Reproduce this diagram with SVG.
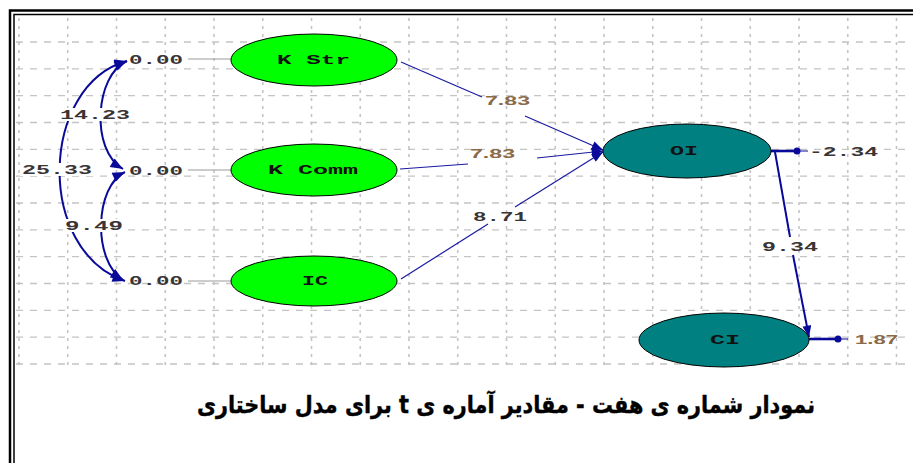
<svg xmlns="http://www.w3.org/2000/svg" width="913" height="463" viewBox="0 0 913 463">
<defs>
<style>
.grid-h{stroke:#c4c4c4;stroke-width:1.3;stroke-dasharray:7 7;fill:none}
.grid-v{stroke:#c4c4c4;stroke-width:1.6;stroke-dasharray:3 5;fill:none}
.frame{fill:none;stroke:#000}
.lat-g{fill:#00ff00;stroke:#000;stroke-width:1}
.lat-t{fill:#008080;stroke:#000;stroke-width:1}
.nlab{font-family:"Liberation Mono",monospace;font-weight:bold;font-size:12px;fill:#111}
.mono{font-family:"Liberation Mono",monospace;font-weight:bold;font-size:13px;fill:#3a3434}
.sans{font-family:"Liberation Sans",Arial,sans-serif;font-weight:bold;font-size:13px;fill:#8a6a48}
.path{stroke:#1a1aa0;stroke-width:1.2;fill:none}
.cov{stroke:#0a0a9a;stroke-width:2;fill:none}
.err{stroke:#0a0a9a;stroke-width:2.6;fill:none}
.thin{stroke:#0a0a9a;stroke-width:1;fill:none}
.tick{stroke:#9a9a9a;stroke-width:1;fill:none}
.bg{fill:#fff}
</style>
<marker id="arr" viewBox="0 0 10 8" refX="10" refY="4" markerWidth="15" markerHeight="9" markerUnits="userSpaceOnUse" orient="auto">
<path d="M0,0 L10,4 L0,8 z" fill="#0a0a9a"/>
</marker>
<marker id="carr" viewBox="0 0 10 8" refX="10" refY="4" markerWidth="15" markerHeight="10" markerUnits="userSpaceOnUse" orient="auto-start-reverse">
<path d="M0,0 L10,4 L0,8 z" fill="#0a0a9a"/>
</marker>
</defs>
<rect width="913" height="463" fill="#fff"/>
<g id="grid">
<path class="grid-h" d="M16,42H905M16,68.8H905M16,95.7H905M16,122.5H905M16,149.3H905M16,176.2H905M16,203H905M16,229.8H905M16,256.7H905M16,283.5H905M16,310.3H905M16,337.2H905M16,364H905"/>
<path class="grid-v" d="M19,18V367M67.75,18V367M116.5,18V367M165.25,18V367M214,18V367M262.75,18V367M311.5,18V367M360.25,18V367M409,18V367M457.75,18V367M506.5,18V367M555.25,18V367M604,18V367M652.75,18V367M701.5,18V367M750.25,18V367M799,18V367M847.75,18V367M896.5,18V367"/>
</g>
<g id="frame">
<path class="frame" stroke-width="2.5" d="M10,463V10.5H913"/>
<path class="frame" stroke-width="1.5" d="M14,463V14.5H913"/>
</g>
<g id="connectors">
<path class="tick" d="M188,59H231M188,170H231M188,281H231"/>
<path class="path" d="M401,62L482,97"/>
<path class="path" d="M525,116L603,150" marker-end="url(#arr)"/>
<path class="path" d="M400,169L468,164"/>
<path class="path" d="M537,158L603,151" marker-end="url(#arr)"/>
<path class="path" d="M401,279L488,224"/>
<path class="path" d="M515,207L603,152" marker-end="url(#arr)"/>
<path class="cov" d="M775,152L790,237"/>
<path class="cov" d="M793,255L809,337" marker-end="url(#arr)"/>
<path class="cov" d="M127,61C40,85 35,250 125,281" marker-start="url(#carr)" marker-end="url(#carr)"/>
<path class="cov" d="M127,61C95,75 90,150 123,169" marker-start="url(#carr)" marker-end="url(#carr)"/>
<path class="cov" d="M125,172C95,186 92,260 123,280" marker-start="url(#carr)" marker-end="url(#carr)"/>
<path class="err" d="M771,151H798"/>
<circle cx="797" cy="151" r="3.5" fill="#0a0a9a"/>
<path class="thin" d="M800,151H808"/>
<path class="err" d="M809,339H840"/>
<circle cx="838" cy="339" r="3.5" fill="#0a0a9a"/>
<path class="thin" d="M840,339H848"/>
</g>
<g id="labels">
<rect class="bg" x="58" y="108" width="74" height="13"/>
<text class="mono" x="60" y="119" textLength="70" lengthAdjust="spacingAndGlyphs">14.23</text>
<rect class="bg" x="20" y="163" width="74" height="13"/>
<text class="mono" x="22" y="174" textLength="70" lengthAdjust="spacingAndGlyphs">25.33</text>
<rect class="bg" x="63" y="219" width="62" height="13"/>
<text class="mono" x="65" y="230" textLength="58" lengthAdjust="spacingAndGlyphs">9.49</text>
<text class="mono" x="129" y="64" textLength="54" lengthAdjust="spacingAndGlyphs">0.00</text>
<text class="mono" x="129" y="175" textLength="54" lengthAdjust="spacingAndGlyphs">0.00</text>
<text class="mono" x="129" y="285" textLength="54" lengthAdjust="spacingAndGlyphs">0.00</text>
<text class="sans" x="485" y="105" textLength="45" lengthAdjust="spacingAndGlyphs">7.83</text>
<text class="sans" x="470" y="158" textLength="45" lengthAdjust="spacingAndGlyphs">7.83</text>
<text class="mono" x="473" y="221" textLength="54" lengthAdjust="spacingAndGlyphs">8.71</text>
<text class="mono" x="762" y="251" textLength="56" lengthAdjust="spacingAndGlyphs">9.34</text>
<text class="mono" x="809" y="156" textLength="69" lengthAdjust="spacingAndGlyphs">-2.34</text>
<text class="sans" x="855" y="344" textLength="43" lengthAdjust="spacingAndGlyphs">1.87</text>
</g>
<g id="node-kstr">
<ellipse class="lat-g" cx="314" cy="60" rx="83" ry="26"/>
<text class="nlab" x="277" y="64" textLength="73" lengthAdjust="spacingAndGlyphs">K Str</text>
</g>
<g id="node-kcomm">
<ellipse class="lat-g" cx="314" cy="170" rx="83" ry="26"/>
<text class="nlab" x="268" y="174" textLength="90" lengthAdjust="spacingAndGlyphs">K Comm</text>
</g>
<g id="node-ic">
<ellipse class="lat-g" cx="314" cy="281" rx="83" ry="25"/>
<text class="nlab" x="302" y="285" textLength="26" lengthAdjust="spacingAndGlyphs">IC</text>
</g>
<g id="node-oi">
<ellipse class="lat-t" cx="687" cy="151" rx="84" ry="27"/>
<text class="nlab" x="670" y="155" textLength="28" lengthAdjust="spacingAndGlyphs">OI</text>
</g>
<g id="node-ci">
<ellipse class="lat-t" cx="724" cy="340" rx="85" ry="27"/>
<text class="nlab" x="710" y="344" textLength="30" lengthAdjust="spacingAndGlyphs">CI</text>
</g>
<g id="title">
<text x="506" y="413" direction="rtl" text-anchor="middle" font-family="DejaVu Sans, Noto Sans, sans-serif" font-weight="bold" font-size="24" fill="#000" stroke="#000" stroke-width="0.4" textLength="618" lengthAdjust="spacingAndGlyphs">نمودار شماره ی هفت -  مقادیر آماره ی t برای مدل ساختاری</text>
</g>
</svg>
